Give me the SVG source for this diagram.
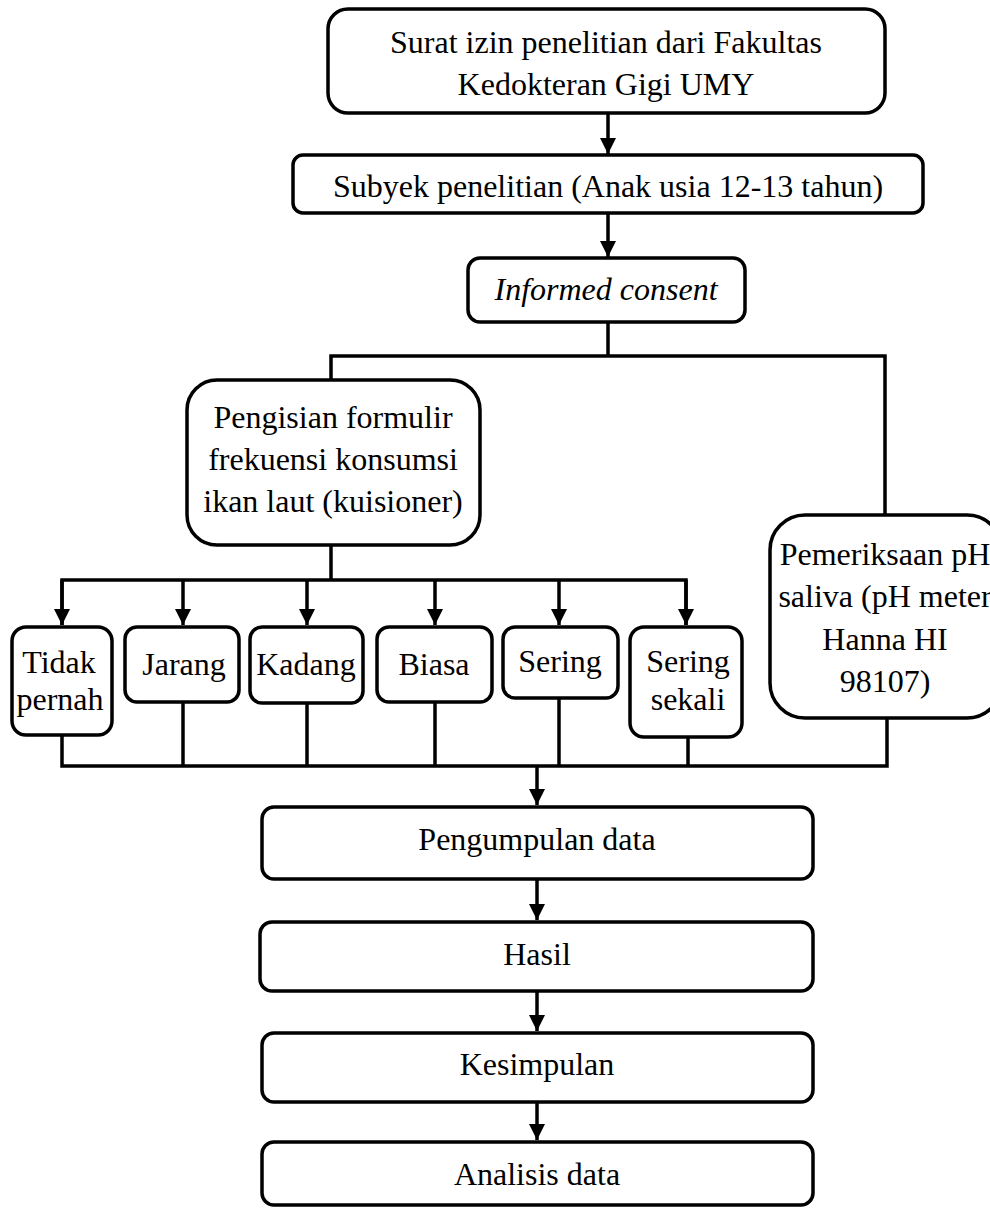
<svg xmlns="http://www.w3.org/2000/svg" width="990" height="1208" viewBox="0 0 990 1208">
<defs>
<marker id="ah" markerUnits="userSpaceOnUse" markerWidth="16" markerHeight="16" viewBox="0 0 16 16" refX="16" refY="8" orient="auto">
<path d="M0,0 L16,8 L0,16 z" fill="#000"/>
</marker>
<style>
.box{fill:#fff;stroke:#000;stroke-width:3.5}
.t{font-family:"Liberation Serif","Times New Roman",serif;font-size:32px;fill:#000;text-anchor:middle}
.i{font-style:italic}
.c{fill:none;stroke:#000;stroke-width:3.5}
.a{fill:none;stroke:#000;stroke-width:3.5;marker-end:url(#ah)}
</style>
</defs>
<rect width="990" height="1208" fill="#fff"/>
<g id="connectors">
<line class="a" x1="608" y1="113" x2="608" y2="154"/>
<line class="a" x1="608" y1="213" x2="608" y2="257"/>
<polyline class="c" points="608,322 608,356"/>
<polyline class="c" points="331,380 331,356 885,356 885,515"/>
<polyline class="c" points="331,545 331,580"/>
<polyline class="c" points="62,625 62,580 686,580 686,625"/>
<line class="a" x1="62" y1="580" x2="62" y2="625"/>
<line class="a" x1="183" y1="580" x2="183" y2="625"/>
<line class="a" x1="307" y1="580" x2="307" y2="625"/>
<line class="a" x1="435" y1="580" x2="435" y2="625"/>
<line class="a" x1="559" y1="580" x2="559" y2="625"/>
<line class="a" x1="686" y1="580" x2="686" y2="625"/>
<polyline class="c" points="62,735 62,766 887,766 887,718"/>
<line class="c" x1="183" y1="702" x2="183" y2="766"/>
<line class="c" x1="307" y1="703" x2="307" y2="766"/>
<line class="c" x1="435" y1="702" x2="435" y2="766"/>
<line class="c" x1="559" y1="698" x2="559" y2="766"/>
<line class="c" x1="688" y1="737" x2="688" y2="766"/>
<line class="a" x1="537" y1="766" x2="537" y2="805"/>
<line class="a" x1="537" y1="879" x2="537" y2="920"/>
<line class="a" x1="537" y1="991" x2="537" y2="1031"/>
<line class="a" x1="537" y1="1102" x2="537" y2="1140"/>
</g>
<g id="n-surat">
<rect class="box" x="328" y="9" width="557" height="104" rx="20"/>
<text class="t" x="606" y="53">Surat izin penelitian dari Fakultas</text>
<text class="t" x="606" y="95">Kedokteran Gigi UMY</text>
</g>
<g id="n-subyek">
<rect class="box" x="293" y="155" width="630" height="58" rx="10"/>
<text class="t" x="608" y="197">Subyek penelitian (Anak usia 12-13 tahun)</text>
</g>
<g id="n-informed">
<rect class="box" x="468" y="258" width="277" height="64" rx="12"/>
<text class="t i" x="606" y="300">Informed consent</text>
</g>
<g id="n-pengisian">
<rect class="box" x="187" y="380" width="293" height="165" rx="30"/>
<text class="t" x="333" y="428">Pengisian formulir</text>
<text class="t" x="333" y="470">frekuensi konsumsi</text>
<text class="t" x="333" y="512">ikan laut (kuisioner)</text>
</g>
<g id="n-ph">
<rect class="box" x="770" y="515" width="232" height="203" rx="35"/>
<text class="t" x="885" y="565">Pemeriksaan pH</text>
<text class="t" x="885" y="607">saliva (pH meter</text>
<text class="t" x="885" y="650">Hanna HI</text>
<text class="t" x="885" y="692">98107)</text>
</g>
<g id="n-tidak">
<rect class="box" x="12" y="627" width="100" height="108" rx="14"/>
<text class="t" x="59" y="673">Tidak</text>
<text class="t" x="60" y="710">pernah</text>
</g>
<g id="n-jarang">
<rect class="box" x="125" y="627" width="114" height="75" rx="12"/>
<text class="t" x="184" y="675">Jarang</text>
</g>
<g id="n-kadang">
<rect class="box" x="250" y="627" width="113" height="76" rx="12"/>
<text class="t" x="306" y="675">Kadang</text>
</g>
<g id="n-biasa">
<rect class="box" x="377" y="627" width="115" height="75" rx="12"/>
<text class="t" x="434" y="675">Biasa</text>
</g>
<g id="n-sering">
<rect class="box" x="503" y="627" width="115" height="71" rx="12"/>
<text class="t" x="560" y="672">Sering</text>
</g>
<g id="n-seringsekali">
<rect class="box" x="630" y="627" width="112" height="110" rx="14"/>
<text class="t" x="688" y="672">Sering</text>
<text class="t" x="688" y="710">sekali</text>
</g>
<g id="n-pengumpulan">
<rect class="box" x="262" y="807" width="551" height="72" rx="12"/>
<text class="t" x="537" y="850">Pengumpulan data</text>
</g>
<g id="n-hasil">
<rect class="box" x="260" y="922" width="553" height="69" rx="12"/>
<text class="t" x="537" y="965">Hasil</text>
</g>
<g id="n-kesimpulan">
<rect class="box" x="262" y="1033" width="551" height="69" rx="12"/>
<text class="t" x="537" y="1075">Kesimpulan</text>
</g>
<g id="n-analisis">
<rect class="box" x="262" y="1142" width="551" height="63" rx="12"/>
<text class="t" x="537" y="1185">Analisis data</text>
</g>
</svg>
